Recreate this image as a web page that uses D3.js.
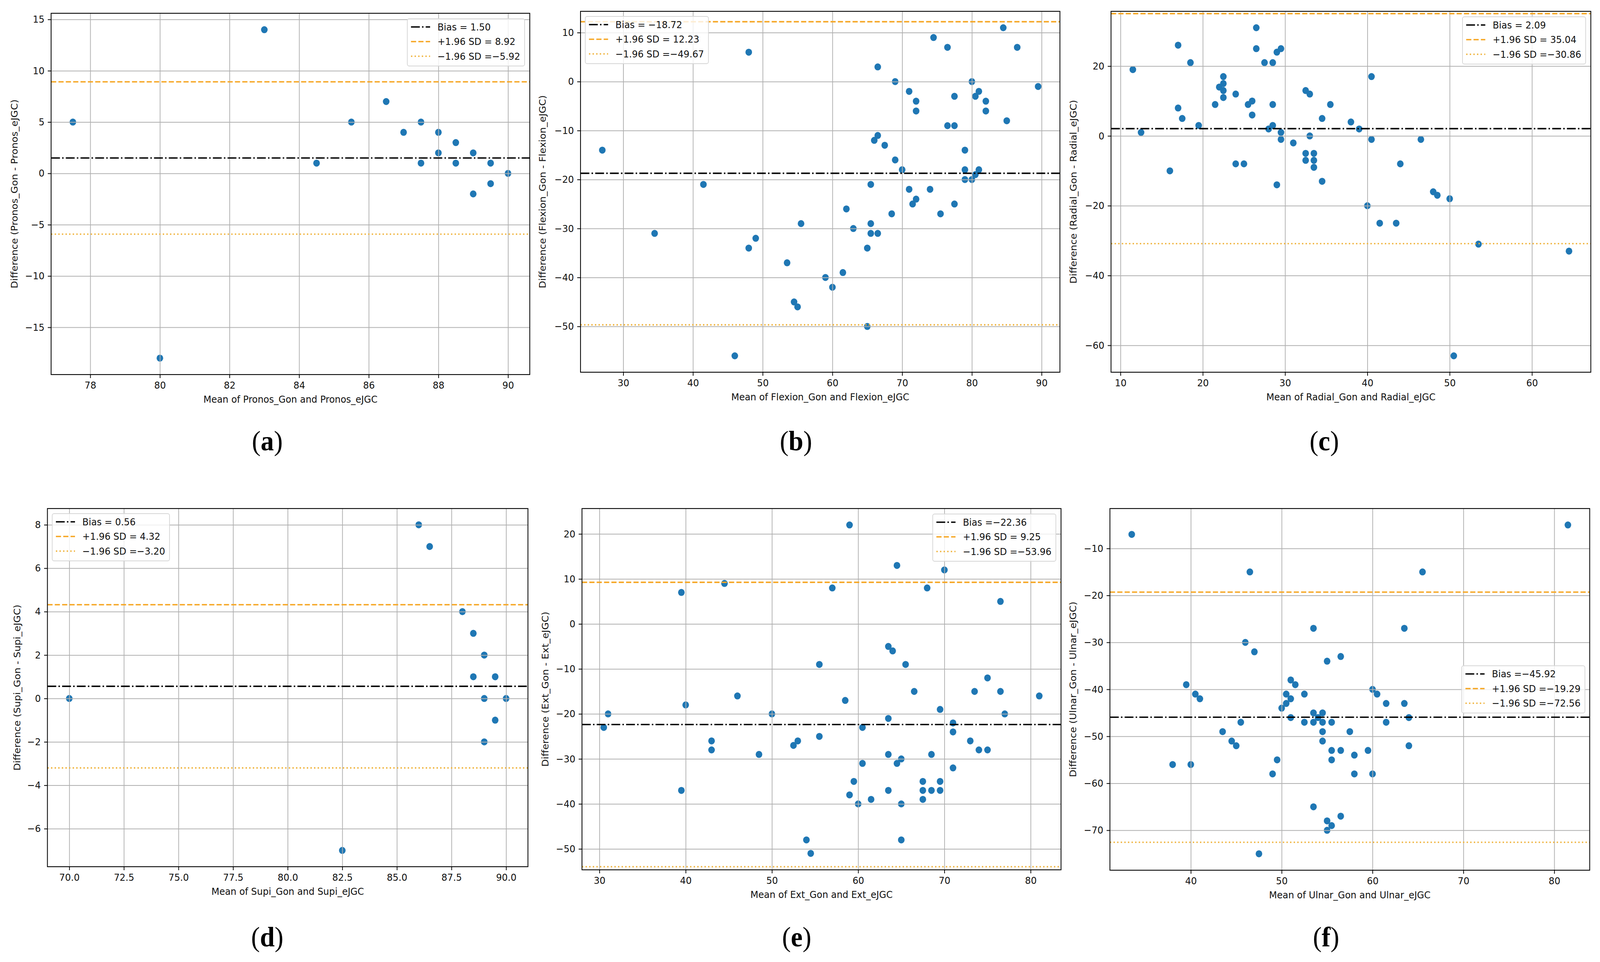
<!DOCTYPE html>
<html>
<head>
<meta charset="utf-8">
<script src="https://cdn.jsdelivr.net/npm/d3@7"></script>
<style>
  html, body { margin: 0; padding: 0; width: 100%; height: 100%; overflow: hidden; background: #fff; }
  #chart { display: block; width: 100vw; height: 100vh; }
  #chart text { font-family: "DejaVu Sans", sans-serif; }
  #chart text.caption { font-family: "Liberation Serif", "DejaVu Serif", serif; }
</style>
</head>
<body>
<svg id="chart" viewBox="0 0 4352 2463" preserveAspectRatio="none"></svg>
<script>
// ----------------------
// 1. Data
// ----------------------
const pronosMean = [77.5, 80, 83, 84.5, 85.5, 86.5, 87, 87.5, 87.5, 88, 88, 88.5, 88.5, 89, 89, 89.5, 89.5, 90];
const pronosDiff = [5, -18, 14, 1, 5, 7, 4, 5, 1, 4, 2, 3, 1, 2, -2, 1, -1, 0];

const flexionMean = [27, 34.5, 41.5, 46, 48, 48, 49, 53.5, 54.5, 55, 55.5, 59, 60, 61.5, 62, 63, 65, 65, 65.5, 65.5,
  65.5, 66, 66.5, 66.5, 66.5, 67.5, 68.5, 69, 69, 70, 71, 71, 71.5, 72, 72, 72, 74, 74.5, 75.5, 76.5,
  76.5, 77.5, 77.5, 77.5, 79, 79, 79, 80, 80, 80.5, 80.5, 81, 81, 82, 82, 84.5, 85, 86.5, 89.5];
const flexionDiff = [-14, -31, -21, -56, 6, -34, -32, -37, -45, -46, -29, -40, -42, -39, -26, -30, -50, -34, -21, -29,
  -31, -12, -11, 3, -31, -13, -27, 0, -16, -18, -2, -22, -25, -4, -6, -24, -22, 9, -27, 7,
  -9, -3, -9, -25, -14, -18, -20, 0, -20, -3, -19, -2, -18, -4, -6, 11, -8, 7, -1];

const radialMean = [11.5, 12.5, 16, 17, 17, 17.5, 18.5, 19.5, 21.5, 22, 22.5, 22.5, 22.5, 22.5, 24, 24, 25, 25.5, 26, 26,
  26.5, 26.5, 27.5, 28, 28.5, 28.5, 28.5, 29, 29, 29.5, 29.5, 29.5, 31, 32.5, 32.5, 32.5, 33, 33, 33.5, 33.5,
  33.5, 34.5, 34.5, 35.5, 38, 39, 40, 40.5, 40.5, 41.5, 43.5, 44, 46.5, 48, 48.5, 50, 50.5, 53.5, 64.5];
const radialDiff = [19, 1, -10, 26, 8, 5, 21, 3, 9, 14, 17, 15, 13, 11, 12, -8, -8, 9, 10, 6,
  31, 25, 21, 2, 21, 9, 3, 24, -14, 25, 1, -1, -2, 13, -5, -7, 12, 0, -5, -7,
  -9, 5, -13, 9, 4, 2, -20, 17, -1, -25, -25, -8, -1, -16, -17, -18, -63, -31, -33];

const supiMean = [70, 82.5, 86, 86.5, 88, 88.5, 88.5, 89, 89, 89, 89.5, 89.5, 90];
const supiDiff = [0, -7, 8, 7, 4, 3, 1, 2, 0, -2, 1, -1, 0];

const extMean = [30.5, 31, 39.5, 39.5, 40, 43, 43, 44.5, 46, 48.5, 50, 52.5, 53, 54, 54.5, 55.5, 55.5, 57, 58.5, 59,
  59, 59.5, 60, 60.5, 60.5, 61.5, 63.5, 63.5, 63.5, 63.5, 64, 64.5, 64.5, 65, 65, 65, 65.5, 66.5, 67.5, 67.5,
  67.5, 68, 68.5, 68.5, 69.5, 69.5, 69.5, 70, 71, 71, 71, 73, 73.5, 74, 75, 75, 76.5, 76.5, 77, 81];
const extDiff = [-23, -20, 7, -37, -18, -26, -28, 9, -16, -29, -20, -27, -26, -48, -51, -9, -25, 8, -17, 22,
  -38, -35, -40, -23, -31, -39, -5, -21, -29, -37, -6, 13, -31, -30, -40, -48, -9, -15, -35, -37,
  -39, 8, -29, -37, -19, -35, -37, 12, -22, -24, -32, -26, -15, -28, -12, -28, 5, -15, -20, -16];

const ulnarMean = [33.5, 38, 39.5, 40, 40.5, 41, 43.5, 44.5, 45, 45.5, 46, 46.5, 47, 47.5, 49, 49.5, 50, 50.5, 50.5, 51,
  51, 51, 51.5, 52.5, 52.5, 53.5, 53.5, 53.5, 53.5, 54, 54.5, 54.5, 54.5, 54.5, 55, 55, 55, 55.5, 55.5, 55.5,
  55.5, 56.5, 56.5, 56.5, 57.5, 58, 58, 59.5, 60, 60, 60.5, 61.5, 61.5, 63.5, 63.5, 64, 64, 65.5, 81.5];
const ulnarDiff = [-7, -56, -39, -56, -41, -42, -49, -51, -52, -47, -30, -15, -32, -75, -58, -55, -44, -41, -43, -38,
  -42, -46, -39, -41, -47, -27, -45, -47, -65, -46, -45, -47, -49, -51, -34, -68, -70, -47, -53, -55,
  -69, -33, -53, -67, -49, -54, -58, -53, -40, -58, -41, -43, -47, -27, -43, -46, -52, -15, -5];

const measureNames = ["Pronos", "Flexion", "Radial", "Supi", "Ext", "Ulnar"];
const panelLetters = ["a", "b", "c", "d", "e", "f"];

const biasValues  = [1.50, -18.72, 2.09, 0.56, -22.36, -45.92];
const upperValues = [8.92, 12.23, 35.04, 4.32, 9.25, -19.29];
const lowerValues = [-5.92, -49.67, -30.86, -3.20, -53.96, -72.56];

const biasLabels  = ["Bias = 1.50", "Bias = \u221218.72", "Bias = 2.09", "Bias = 0.56", "Bias =\u221222.36", "Bias =\u221245.92"];
const upperLabels = ["+1.96 SD = 8.92", "+1.96 SD = 12.23", "+1.96 SD = 35.04", "+1.96 SD = 4.32", "+1.96 SD = 9.25", "+1.96 SD =\u221219.29"];
const lowerLabels = ["\u22121.96 SD =\u22125.92", "\u22121.96 SD =\u221249.67", "\u22121.96 SD =\u221230.86", "\u22121.96 SD =\u22123.20", "\u22121.96 SD =\u221253.96", "\u22121.96 SD =\u221272.56"];

const xTickValues = [
  [78, 80, 82, 84, 86, 88, 90],
  [30, 40, 50, 60, 70, 80, 90],
  [10, 20, 30, 40, 50, 60],
  [70, 72.5, 75, 77.5, 80, 82.5, 85, 87.5, 90],
  [30, 40, 50, 60, 70, 80],
  [40, 50, 60, 70, 80]
];
const yTickValues = [
  [-15, -10, -5, 0, 5, 10, 15],
  [-50, -40, -30, -20, -10, 0, 10],
  [-60, -40, -20, 0, 20],
  [-6, -4, -2, 0, 2, 4, 6, 8],
  [-50, -40, -30, -20, -10, 0, 10, 20],
  [-70, -60, -50, -40, -30, -20, -10]
];
const xTickFormats = ["d", "d", "d", ".1f", "d", "d"];

const meanSeries = [pronosMean, flexionMean, radialMean, supiMean, extMean, ulnarMean];
const diffSeries = [pronosDiff, flexionDiff, radialDiff, supiDiff, extDiff, ulnarDiff];

// ----------------------
// 2. Layout (pixel boxes of each axes, in viewBox units)
// ----------------------
const boxes = [
  { left: 139,  right: 1441, top: 34,   bottom: 959,  ylabOff: 100, legend: "ur", capX: 727,  capY: 1153 },
  { left: 1579, right: 2883, top: 29,   bottom: 953,  ylabOff: 103, legend: "ul", capX: 2165, capY: 1153 },
  { left: 3022, right: 4327, top: 29,   bottom: 953,  ylabOff: 103, legend: "ur", capX: 3602, capY: 1153 },
  { left: 129,  right: 1436, top: 1302, bottom: 2219, ylabOff: 83,  legend: "ul", capX: 727,  capY: 2423 },
  { left: 1583, right: 2886, top: 1302, bottom: 2227, ylabOff: 100, legend: "ur", capX: 2167, capY: 2423 },
  { left: 3019, right: 4324, top: 1302, bottom: 2228, ylabOff: 101, legend: "cr", capX: 3607, capY: 2423 }
];

const FONT = 25;
const refStyles = [
  { color: "#000000", dash: "24,6,4,6", width: 3.6 },
  { color: "#f6a623", dash: "14,6",     width: 3.6 },
  { color: "#efb137", dash: "3.6,6.2",  width: 3.6 }
];

const svg = d3.select("#chart");
svg.append("rect").attr("width", 4352).attr("height", 2463).attr("fill", "#fff");

// matplotlib-like 5% margin on the data range
function padded(values) {
  const [lo, hi] = d3.extent(values);
  const m = (hi - lo) * 0.05;
  return [lo - m, hi + m];
}

// ----------------------
// 3. Draw panels
// ----------------------
meanSeries.forEach((_, i) => drawPanel(i));

function drawPanel(i) {
  const box = boxes[i];
  const w = box.right - box.left;
  const h = box.bottom - box.top;
  const name = measureNames[i];

  const g = svg.append("g").attr("transform", `translate(${box.left},${box.top})`);

  const x = d3.scaleLinear().domain(padded(meanSeries[i])).range([0, w]);
  const y = d3.scaleLinear().domain(padded(diffSeries[i])).range([h, 0]);

  // points (under the grid, like matplotlib's default zorder)
  g.append("g").selectAll("circle")
    .data(d3.zip(meanSeries[i], diffSeries[i]))
    .join("circle")
    .attr("cx", d => x(d[0]))
    .attr("cy", d => y(d[1]))
    .attr("r", 9)
    .attr("fill", "#1f77b4");

  // grid
  g.append("g")
    .attr("transform", `translate(0,${h})`)
    .call(d3.axisBottom(x).tickValues(xTickValues[i]).tickSize(-h).tickFormat(""))
    .call(s => s.select(".domain").remove())
    .selectAll("line").attr("stroke", "#b0b0b0").attr("stroke-width", 2);
  g.append("g")
    .call(d3.axisLeft(y).tickValues(yTickValues[i]).tickSize(-w).tickFormat(""))
    .call(s => s.select(".domain").remove())
    .selectAll("line").attr("stroke", "#b0b0b0").attr("stroke-width", 2);

  // bias and limits of agreement
  const refVals = [biasValues[i], upperValues[i], lowerValues[i]];
  refVals.forEach((v, k) => {
    g.append("line")
      .attr("x1", 0).attr("x2", w)
      .attr("y1", y(v)).attr("y2", y(v))
      .attr("stroke", refStyles[k].color)
      .attr("stroke-width", refStyles[k].width)
      .attr("stroke-dasharray", refStyles[k].dash);
  });

  // spines
  g.append("rect")
    .attr("width", w).attr("height", h)
    .attr("fill", "none").attr("stroke", "#000").attr("stroke-width", 2.2);

  // axes
  const xAxisG = g.append("g")
    .attr("transform", `translate(0,${h})`)
    .call(d3.axisBottom(x).tickValues(xTickValues[i]).tickSize(9).tickPadding(9)
      .tickFormat(d3.format(xTickFormats[i])));
  const yAxisG = g.append("g")
    .call(d3.axisLeft(y).tickValues(yTickValues[i]).tickSize(9).tickPadding(9)
      .tickFormat(d3.format("d")));
  [xAxisG, yAxisG].forEach(a => {
    a.select(".domain").remove();
    a.selectAll("line").attr("stroke", "#000").attr("stroke-width", 2);
    a.selectAll("text")
      .attr("font-size", FONT)
      .attr("fill", "#111");
  });

  // axis labels
  g.append("text")
    .attr("x", w / 2)
    .attr("y", h + 72)
    .attr("text-anchor", "middle")
    .attr("font-size", FONT)
    .attr("fill", "#111")
    .text(`Mean of ${name}_Gon and ${name}_eJGC`);

  g.append("text")
    .attr("transform", `translate(${-box.ylabOff},${h / 2}) rotate(-90)`)
    .attr("text-anchor", "middle")
    .attr("dominant-baseline", "central")
    .attr("font-size", FONT)
    .attr("fill", "#111")
    .text(`Difference (${name}_Gon - ${name}_eJGC)`);

  // legend
  const labels = [biasLabels[i], upperLabels[i], lowerLabels[i]];
  const lg = g.append("g");
  const bg = lg.append("rect");
  let maxText = 0;
  labels.forEach((t, k) => {
    const cy = 21 + k * 37.5;
    lg.append("line")
      .attr("x1", 10).attr("x2", 62)
      .attr("y1", cy).attr("y2", cy)
      .attr("stroke", refStyles[k].color)
      .attr("stroke-width", refStyles[k].width)
      .attr("stroke-dasharray", refStyles[k].dash);
    const txt = lg.append("text")
      .attr("x", 82)
      .attr("y", cy + 9)
      .attr("font-size", FONT)
      .attr("fill", "#111")
      .text(t);
    maxText = Math.max(maxText, txt.node().getComputedTextLength());
  });
  const lw = 82 + maxText + 12;
  const lh = 121;
  bg.attr("width", lw).attr("height", lh)
    .attr("rx", 5).attr("ry", 5)
    .attr("fill", "#fff").attr("fill-opacity", 0.8)
    .attr("stroke", "#d6d6d6").attr("stroke-width", 2);

  let lx, ly;
  if (box.legend === "ul") { lx = 13; ly = 13; }
  else if (box.legend === "ur") { lx = w - 14 - lw; ly = 14; }
  else { lx = w - 13 - lw; ly = h / 2 - lh / 2; }
  lg.attr("transform", `translate(${lx},${ly})`);

  // sub-figure caption: serif, thin parentheses, bold letter
  const cap = svg.append("text")
    .attr("class", "caption")
    .attr("x", box.capX)
    .attr("y", box.capY)
    .attr("text-anchor", "middle")
    .attr("font-size", 72)
    .attr("fill", "#000");
  cap.append("tspan").text("(");
  cap.append("tspan").attr("font-weight", "bold").text(panelLetters[i]);
  cap.append("tspan").text(")");
}
</script>
</body>
</html>
